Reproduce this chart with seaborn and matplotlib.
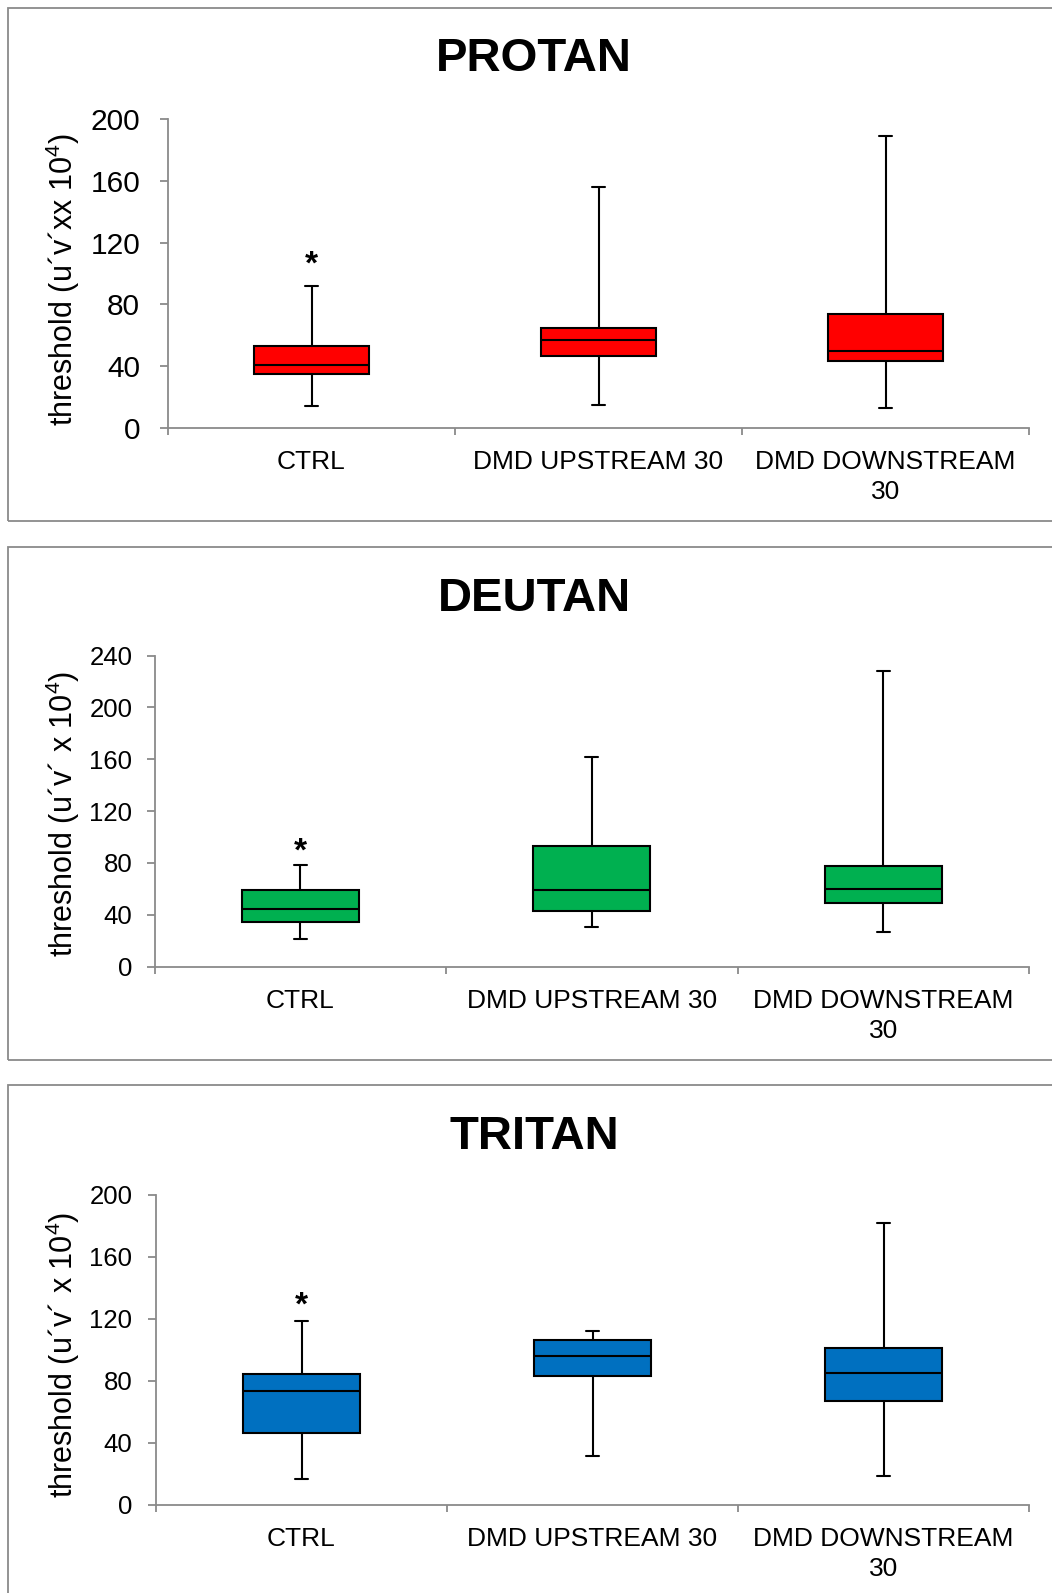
import pandas as pd
import matplotlib.pyplot as plt
import seaborn as sns
from matplotlib.patches import Rectangle

# groups on the x axis
groups = ["CTRL", "DMD UPSTREAM 30", "DMD DOWNSTREAM\n30"]

# box stats: whisker low, Q1, median, Q3, whisker high
protan_low = [14, 14.6, 13]
protan_q1 = [35, 46.7, 43.5]
protan_med = [40.6, 57, 49.6]
protan_q3 = [53, 65, 74]
protan_high = [92, 156, 189]

deutan_low = [21.4, 30.8, 26.7]
deutan_q1 = [34.4, 43, 49]
deutan_med = [44.8, 59, 59.6]
deutan_q3 = [58.9, 93, 78]
deutan_high = [78.7, 162, 228]

tritan_low = [16.7, 31.4, 19]
tritan_q1 = [46.7, 83.4, 67.3]
tritan_med = [73.3, 96, 85.4]
tritan_q3 = [84.7, 106.5, 101.5]
tritan_high = [118.5, 112, 182]

# significance stars above CTRL
star_y = [105.5, 88.5, 128.5]

titles = ["PROTAN", "DEUTAN", "TRITAN"]
ylabels = ["threshold (u´v´xx 10$^4$)",
           "threshold (u´v´ x 10$^4$)",
           "threshold (u´v´ x 10$^4$)"]
colors = ["#FF0000", "#00B050", "#0070C0"]
ymax = [200, 240, 200]

W, H = 1052, 1593
GREY = "#8a8a8a"

sns.set_style("white")
plt.rcParams['font.family'] = ['Liberation Sans', 'DejaVu Sans']
plt.rcParams['mathtext.default'] = 'regular'
plt.rcParams['text.color'] = 'black'
plt.rcParams['xtick.labelcolor'] = 'black'
plt.rcParams['ytick.labelcolor'] = 'black'


def long_table(low, q1, med, q3, high):
    # five points per group give exactly these quartiles with whis=(0, 100)
    rows = []
    for i, g in enumerate(groups):
        for v in (low[i], q1[i], med[i], q3[i], high[i]):
            rows.append({"group": g, "value": v})
    return pd.DataFrame(rows)


tables = [
    long_table(protan_low, protan_q1, protan_med, protan_q3, protan_high),
    long_table(deutan_low, deutan_q1, deutan_med, deutan_q3, deutan_high),
    long_table(tritan_low, tritan_q1, tritan_med, tritan_q3, tritan_high),
]

# pixel layout: axes left, right, top, bottom
axes_px = [(168, 1029, 119, 428), (154.5, 1029, 655.6, 966.6), (156, 1029, 1195, 1505)]
frames_px = [(8, 521), (547, 1060), (1085, 1610)]
title_y = [59, 599, 1137]
ylabel_y = [280, 814, 1355]
tick_size = [21.5, 18.5, 18.5]
tick_pad = [14, 10, 11]

fig = plt.figure(figsize=(W / 100, H / 100), dpi=100)

for k in range(3):
    l, r, t, b = axes_px[k]
    ax = fig.add_axes([l / W, 1 - b / H, (r - l) / W, (b - t) / H])

    sns.boxplot(data=tables[k], x="group", y="value", order=groups, ax=ax,
                color=colors[k], saturation=1, width=0.4, whis=(0, 100),
                linecolor="black", linewidth=1.5, capwidths=0.045)

    ax.set_xlim(-0.5, 2.5)
    ax.set_ylim(0, ymax[k])
    ax.set_yticks(range(0, ymax[k] + 1, 40))
    ax.set_xticks([-0.5, 0.5, 1.5, 2.5], minor=True)
    ax.set_xlabel("")
    ax.set_ylabel("")

    for side in ("top", "right"):
        ax.spines[side].set_visible(False)
    for side in ("left", "bottom"):
        ax.spines[side].set_color(GREY)
        ax.spines[side].set_linewidth(1.3)

    ax.tick_params(axis="y", which="major", direction="out", length=6, width=1.3,
                   color=GREY, labelsize=tick_size[k], pad=tick_pad[k], left=True)
    ax.tick_params(axis="x", which="major", length=0, labelsize=19, pad=16)
    ax.tick_params(axis="x", which="minor", direction="out", length=5, width=1.3,
                   color=GREY, bottom=True)
    for lbl in ax.get_xticklabels():
        lbl.set_linespacing(1.3)

    ax.text(0, star_y[k], "*", ha="center", va="center", fontsize=24,
            fontweight="bold")

    fig.text(534 / W, 1 - title_y[k] / H, titles[k], ha="center", va="center",
             fontsize=34, fontweight="bold")
    fig.text(63 / W, 1 - ylabel_y[k] / H, ylabels[k], ha="center", va="center",
             rotation=90, fontsize=22)

    top, bot = frames_px[k]
    fig.add_artist(Rectangle((8 / W, 1 - bot / H), 1.1, (bot - top) / H,
                             transform=fig.transFigure, fill=False,
                             edgecolor=GREY, linewidth=1.3))

fig.savefig("out.png", dpi=100)
